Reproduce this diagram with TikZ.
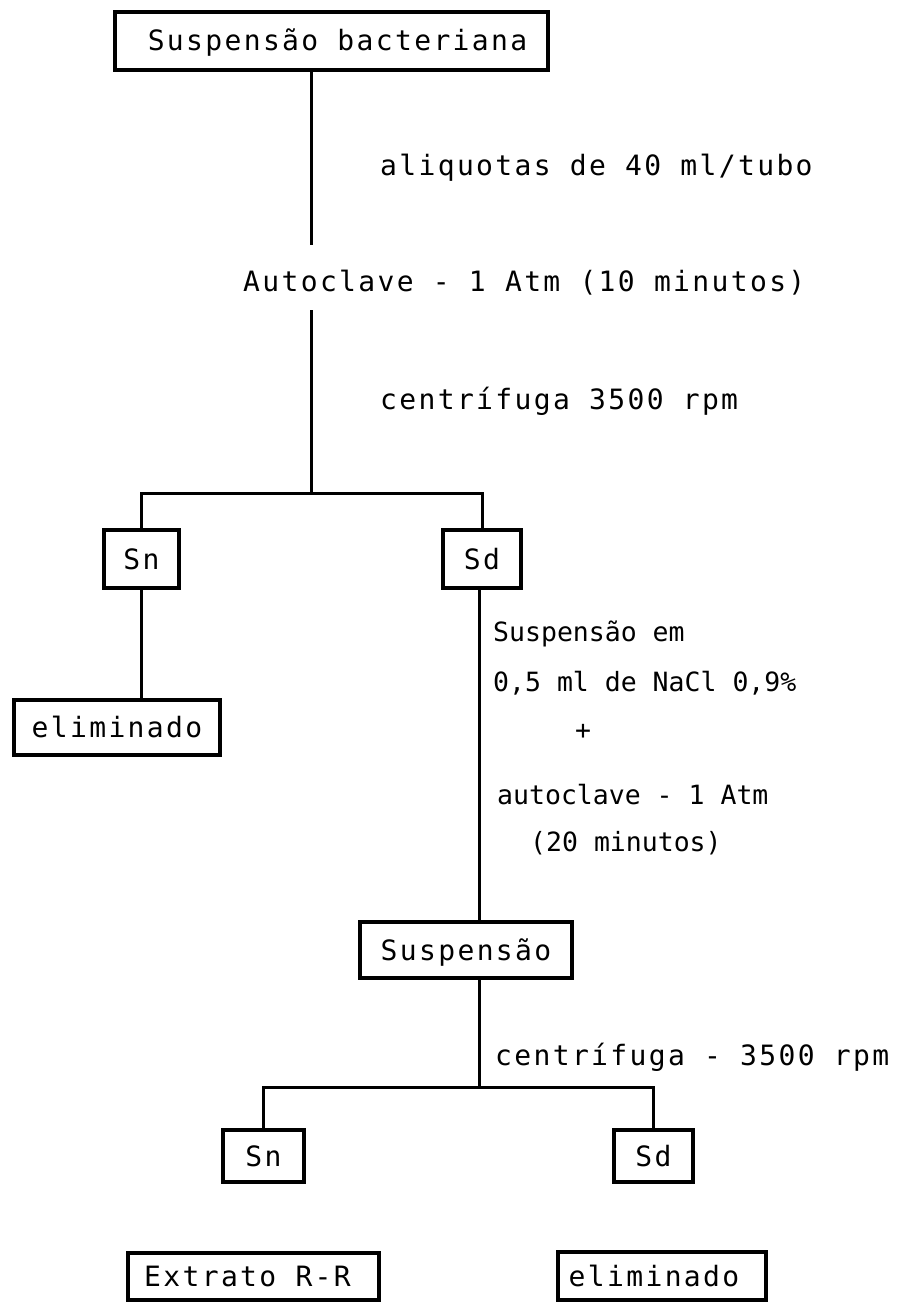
\documentclass[tikz,border=0pt]{standalone}
\usepackage{fontspec}
\newfontfamily\widefont[LetterSpace=8.4]{DejaVu Sans Mono}
\newfontfamily\narrowfont{DejaVu Sans Mono}
\begin{document}
\begin{tikzpicture}[x=1pt,y=-1pt,
  wide/.style={font=\widefont\fontsize{28}{30}\selectfont, text height=20pt, text depth=0pt, inner sep=0pt},
  narrow/.style={font=\narrowfont\fontsize{26.5}{28}\selectfont, text height=19pt, text depth=0pt, inner sep=0pt},
  box/.style={wide, draw, line width=3.2pt},
  conn/.style={line width=3pt},
  lbl/.style={wide, anchor=west},
  nlbl/.style={narrow, anchor=west}]
\useasboundingbox (0,0) rectangle (907,1303);

% boxes
\node[box, minimum width=433pt, minimum height=58pt] (top) at (331.5,41) {\hspace*{12pt}Suspensão bacteriana};
\node[box, minimum width=75pt, minimum height=58pt] (sn1) at (141.5,559) {Sn};
\node[box, minimum width=78pt, minimum height=58pt] (sd1) at (482,559) {Sd};
\node[box, minimum width=206pt, minimum height=55pt] (elim1) at (117,727.5) {eliminado};
\node[box, minimum width=212pt, minimum height=56pt] (susp) at (466,950) {Suspensão};
\node[box, minimum width=81pt, minimum height=52pt] (sn2) at (263.5,1156) {Sn};
\node[box, minimum width=79pt, minimum height=52pt] (sd2) at (653.5,1156) {Sd};
\node[box, minimum width=251pt, minimum height=47pt] (extr) at (253.5,1276.5) {Extrato R-R\hspace*{12pt}};
\node[box, minimum width=208pt, minimum height=48pt] (elim2) at (662,1276) {eliminado\hspace*{16pt}};

% labels
\node[lbl] (l1) at (380,165) {aliquotas de 40 ml/tubo};
\node[lbl] (l2) at (243,281) {Autoclave - 1 Atm (10 minutos)};
\node[lbl] (l3) at (380,399) {centrífuga 3500 rpm};
\node[nlbl] (l4) at (493,632) {Suspensão em};
\node[nlbl] (l5) at (493,682) {0,5 ml de NaCl 0,9\%};
\node[narrow] (l6) at (583,730) {+};
\node[nlbl] (l7) at (497,795) {autoclave - 1 Atm};
\node[nlbl] (l8) at (530,842) {(20 minutos)};
\node[lbl] (l9) at (495,1055) {centrífuga - 3500 rpm};

% connectors
\coordinate (c1) at (311,245);
\coordinate (c2) at (311,310);
\coordinate (j1) at (311,493);
\coordinate (colR) at (479,0);
\coordinate (j2) at (479,1087);

\draw[conn] (top.south -| c1) -- (c1);
\draw[conn] (c2) -- (j1);
\draw[conn] (sn1.north) |- (j1) -| (sd1.north);
\draw[conn] (sn1.south) -- (sn1.south |- elim1.north);
\draw[conn] (sd1.south -| colR) -- (susp.north -| colR);
\draw[conn] (susp.south -| colR) -- (j2);
\draw[conn] (sn2.north) |- (j2) -| (sd2.north);
\end{tikzpicture}
\end{document}
